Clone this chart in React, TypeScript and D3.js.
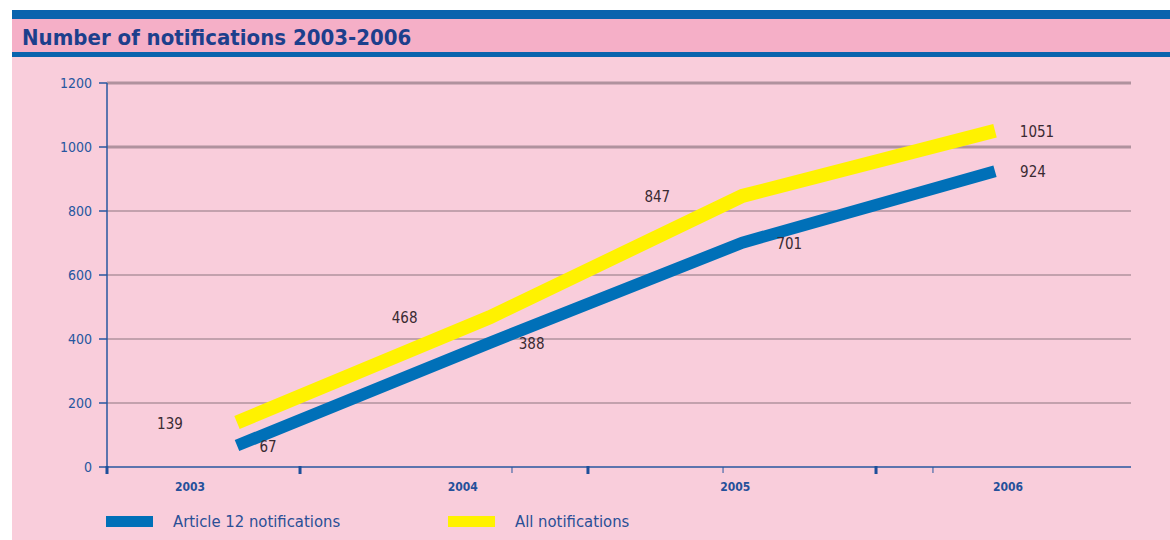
import React from 'react';
import * as d3 from 'd3';

// chart values
const years = ['2003', '2004', '2005', '2006'];
const article12 = [67, 388, 701, 924];
const allNotifications = [139, 468, 847, 1051];
const yTicks = [0, 200, 400, 600, 800, 1000, 1200];
// x-axis tick marks, as fractions of the axis length
const majorTicks = [0, 0.1885, 0.4697, 0.751];
const minorTicks = [0.3955, 0.6016, 0.8066];

const W = 1170;
const H = 540;
const FONT = '"DejaVu Sans Condensed", "DejaVu Sans", sans-serif';
const BLUE = '#0a63ad';
const TEXT_BLUE = '#27569f';

const App = () => {
    const margin = { top: 83, right: 39, bottom: 73, left: 107 };
    const innerW = W - margin.left - margin.right;
    const innerH = H - margin.top - margin.bottom;

    const y = d3.scaleLinear().domain([0, 1200]).range([innerH, 0]);
    // where the points sit
    const xData = d3.scalePoint<string>().domain(years).range([130, 888]);
    // where the year labels sit
    const xLabel = d3.scalePoint<string>().domain(years).range([83, 901]);
    const xAxis = d3.scaleLinear().domain([0, 1]).range([0, innerW]);

    const line = d3.line<number>()
        .x((_, i) => xData(years[i]) as number)
        .y(d => y(d));

    // label offsets from each point (dx), per series
    const allDx = [-67, -85, -85, 42];
    const artDx = [31, 42, 47, 38];

    const series = [
        { name: 'All notifications', values: allNotifications, color: '#fff200', width: 14, dx: allDx },
        { name: 'Article 12 notifications', values: article12, color: '#0070b8', width: 12, dx: artDx },
    ];

    return (
        <svg width={W} height={H} style={{ position: 'absolute', left: 0, top: 0, background: '#fff' }}>
            {/* header bands */}
            <rect x={12} y={10} width={W - 12} height={9} fill={BLUE} />
            <rect x={12} y={19} width={W - 12} height={33} fill="#f5afc7" />
            <rect x={12} y={52} width={W - 12} height={5} fill={BLUE} />
            <rect x={12} y={57} width={W - 12} height={H - 57} fill="#f9cddb" />
            <text x={22} y={45} fontFamily={FONT} fontWeight="bold" fontSize={22} fill="#1d3f8c">
                Number of notifications 2003-2006
            </text>

            <g transform={`translate(${margin.left},${margin.top})`}>
                {/* gridlines */}
                {yTicks.filter(t => t > 0).map(t => (
                    <line key={t} x1={0} x2={innerW} y1={y(t)} y2={y(t)}
                        stroke="#b0929e" strokeWidth={t >= 1000 ? 3 : 1.6} />
                ))}

                {/* y axis */}
                <line x1={0} x2={0} y1={0} y2={innerH} stroke={TEXT_BLUE} strokeWidth={1.5} />
                {yTicks.map(t => (
                    <g key={t} transform={`translate(0,${y(t)})`}>
                        <line x1={-8} x2={0} stroke={TEXT_BLUE} strokeWidth={1.5} />
                        <text x={-15} dy="0.35em" textAnchor="end" fontFamily={FONT} fontSize={14} fill={TEXT_BLUE}>{t}</text>
                    </g>
                ))}

                {/* x axis */}
                <line x1={0} x2={innerW} y1={innerH} y2={innerH} stroke={TEXT_BLUE} strokeWidth={1.5} />
                {majorTicks.map(t => (
                    <rect key={t} x={xAxis(t) - 1.5} y={innerH - 1} width={3} height={8} fill="#1d4f9a" />
                ))}
                {minorTicks.map(t => (
                    <line key={t} x1={xAxis(t)} x2={xAxis(t)} y1={innerH} y2={innerH + 6} stroke={TEXT_BLUE} strokeWidth={1} />
                ))}
                {years.map(yr => (
                    <text key={yr} x={xLabel(yr)} y={innerH + 24} textAnchor="middle" fontFamily={FONT}
                        fontWeight="bold" fontSize={12} fill="#25509a">{yr}</text>
                ))}

                {/* lines */}
                {series.map(s => (
                    <path key={s.name} d={line(s.values) as string} fill="none" stroke={s.color}
                        strokeWidth={s.width} strokeLinejoin="miter" strokeLinecap="butt" />
                ))}

                {/* value labels */}
                {series.map(s => s.values.map((v, i) => (
                    <text key={s.name + i} x={(xData(years[i]) as number) + s.dx[i]} y={y(v)} dy="0.4em"
                        textAnchor="middle" fontFamily={FONT} fontSize={15} fill="#3a2a32">{v}</text>
                )))}
            </g>

            {/* legend */}
            <g fontFamily={FONT} fontSize={16.5} fill="#2a4f96">
                <rect x={106} y={516} width={47} height={11} fill="#0070b8" />
                <text x={173} y={527}>Article 12 notifications</text>
                <rect x={448} y={516} width={47} height={11} fill="#fff200" />
                <text x={515} y={527}>All notifications</text>
            </g>
        </svg>
    );
};

export default App;
